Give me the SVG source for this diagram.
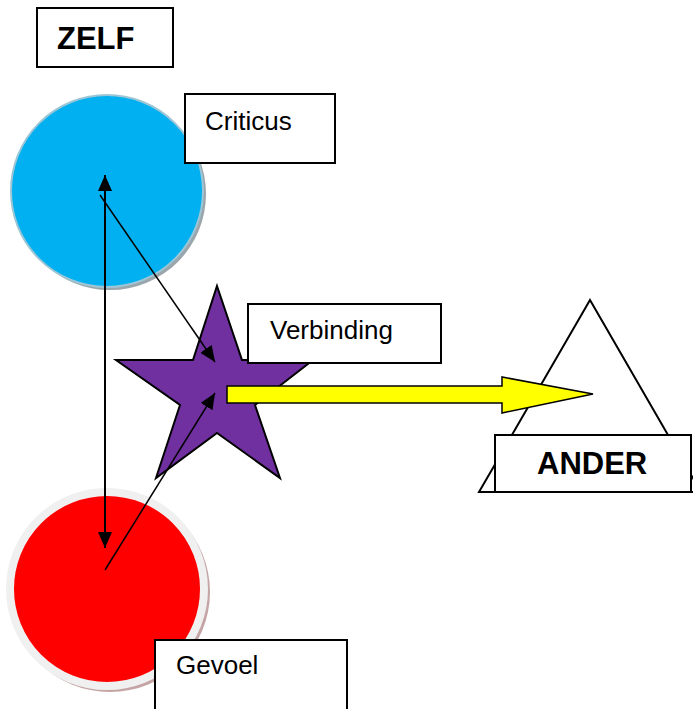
<svg xmlns="http://www.w3.org/2000/svg" width="693" height="709" viewBox="0 0 693 709">
<style>
.box{fill:#fff;stroke:#000;stroke-width:2}
.lbl{font-family:"Liberation Sans",Arial,sans-serif;font-size:26px;fill:#000}
.big{font-family:"Liberation Sans",Arial,sans-serif;font-size:31px;font-weight:bold;fill:#000}
.conn{stroke:#000;fill:none}
</style>
<defs>
<marker id="ah" viewBox="0 0 16 14" refX="16" refY="7" markerWidth="16" markerHeight="14" markerUnits="userSpaceOnUse" orient="auto-start-reverse">
<path d="M0,0 L16,7 L0,14 z" fill="#000"/>
</marker>
</defs>
<rect width="693" height="709" fill="#fff"/>
<g id="zelf">
<rect class="box" x="37" y="8" width="136" height="59"/>
<text class="big" x="57" y="49">ZELF</text>
</g>
<g id="criticus-circle">
<circle cx="110" cy="194" r="96" fill="#9aa6ac"/>
<circle cx="107" cy="191" r="96" fill="#00b0f0" stroke="#9cc6d6" stroke-width="2"/>
</g>
<g id="gevoel-circle">
<circle cx="110" cy="592" r="100" fill="#c4a4a4"/>
<circle cx="107" cy="589" r="97" fill="#ff0000" stroke="#f0f0f0" stroke-width="8"/>
</g>
<g id="ander-triangle">
<polygon points="590,300 701,492 479,492" fill="#fff" stroke="#000" stroke-width="2"/>
</g>
<g id="star">
<polygon points="217,286 242,360 313,360 255,405 280,478 217,433 156,478 180,405 116,360 193,360" fill="#7030a0" stroke="#000" stroke-width="2"/>
</g>
<g id="criticus">
<rect class="box" x="185" y="94" width="150" height="69"/>
<text class="lbl" x="205" y="130">Criticus</text>
</g>
<g id="verbinding">
<rect class="box" x="248" y="304" width="193" height="59"/>
<text class="lbl" x="270" y="339">Verbinding</text>
</g>
<g id="gevoel">
<rect class="box" x="155" y="640" width="192" height="75"/>
<text class="lbl" x="176" y="674">Gevoel</text>
</g>
<g id="connectors">
<line class="conn" x1="105" y1="175" x2="105" y2="548" stroke-width="2" marker-start="url(#ah)" marker-end="url(#ah)"/>
<line class="conn" x1="100" y1="195" x2="215" y2="362" stroke-width="1.5" marker-end="url(#ah)"/>
<line class="conn" x1="105" y1="570" x2="215" y2="393" stroke-width="1.5" marker-end="url(#ah)"/>
<polygon points="227,386 502,386 502,377 593,394 502,413 502,403 227,403" fill="#ffff00" stroke="#000" stroke-width="1.5"/>
</g>
<g id="ander">
<rect class="box" x="495" y="435" width="196" height="57"/>
<text class="big" x="537" y="474">ANDER</text>
</g>
</svg>
